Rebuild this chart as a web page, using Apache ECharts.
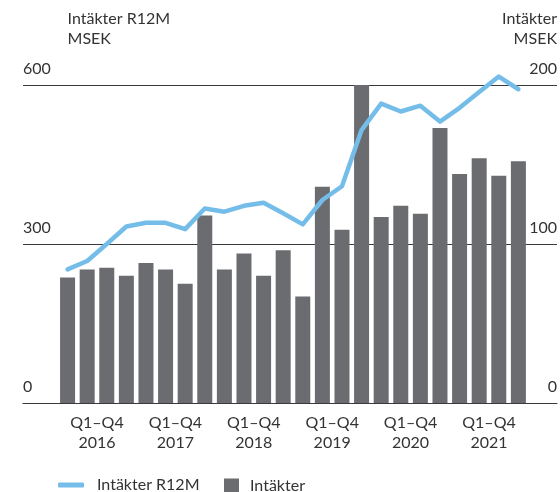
<!DOCTYPE html>
<html>
<head>
<meta charset="utf-8">
<script src="https://cdn.jsdelivr.net/npm/echarts@6/dist/echarts.min.js"></script>
<style>
  html, body { margin: 0; padding: 0; background: #fff; }
  #chart { width: 560px; height: 492px; }
</style>
</head>
<body>
<div id="chart"></div>
<script>
  // quarterly revenue, MSEK (right axis)
  const years = ['2016', '2017', '2018', '2019', '2020', '2021']
  const revenue = [79, 84, 85, 80, 88, 84, 75, 118, 84, 94, 80, 96,
    67, 136, 109, 201, 117, 124, 119, 173, 144, 154, 143, 152]
  // rolling 12 months, MSEK (left axis)
  const revenueR12 = [252, 268, 300, 333, 340, 340, 328, 367, 361, 372, 378, 358,
    337, 383, 409, 515, 565, 550, 561, 531, 557, 587, 616, 592]
  const leftTicks = [0, 300, 600]
  const rightTicks = [0, 100, 200]

  const font = 'Lato'
  const textColor = '#333333'
  const gridColor = '#3a3a3a'

  const chart = echarts.init(document.getElementById('chart'))

  const option = {
    animation: false,
    textStyle: { fontFamily: font },
    grid: { left: 23, right: 3, top: 85, bottom: 89 },
    legend: [
      {
        left: 58,
        top: 477,
        padding: 0,
        itemWidth: 26,
        itemHeight: 5,
        icon: 'roundRect',
        data: ['Intäkter R12M'],
        textStyle: { fontFamily: font, fontSize: 16, color: textColor, padding: [0, 0, 0, 8] },
      },
      {
        left: 224,
        top: 478,
        padding: 0,
        itemWidth: 15,
        itemHeight: 15,
        icon: 'rect',
        data: ['Intäkter'],
        textStyle: { fontFamily: font, fontSize: 16, color: textColor, padding: [0, 0, 0, 6] },
      },
    ],
    xAxis: {
      type: 'value',
      min: -2.274,
      max: 24.97,
      splitLine: { show: false },
      axisTick: { show: false },
      axisLine: { show: true, onZero: false, lineStyle: { color: gridColor, width: 1 } },
      axisLabel: {
        customValues: years.map((_, i) => i * 4 + 1.5),
        formatter: (v) => 'Q1–Q4\n' + years[Math.round((v - 1.5) / 4)],
        fontSize: 16,
        lineHeight: 20,
        margin: 10,
        color: textColor,
        fontFamily: font,
      },
    },
    yAxis: [
      {
        type: 'value',
        min: 0,
        max: 600,
        interval: 300,
        position: 'left',
        name: 'Intäkter R12M\nMSEK',
        nameLocation: 'end',
        nameGap: 36,
        nameTextStyle: { align: 'left', verticalAlign: 'bottom', fontSize: 16, lineHeight: 20, color: textColor, fontFamily: font },
        axisLine: { show: false },
        axisTick: { show: false },
        splitLine: { show: true, lineStyle: { color: gridColor, width: 1 } },
        axisLabel: {
          inside: true,
          margin: 0,
          verticalAlign: 'bottom',
          padding: [0, 0, 8, 0],
          fontSize: 16,
          color: textColor,
          fontFamily: font,
          customValues: leftTicks,
        },
      },
      {
        type: 'value',
        min: 0,
        max: 200,
        interval: 100,
        position: 'right',
        name: 'Intäkter\nMSEK',
        nameLocation: 'end',
        nameGap: 36,
        nameTextStyle: { align: 'right', verticalAlign: 'bottom', fontSize: 16, lineHeight: 20, color: textColor, fontFamily: font },
        axisLine: { show: false },
        axisTick: { show: false },
        splitLine: { show: false },
        axisLabel: {
          inside: true,
          margin: 0,
          verticalAlign: 'bottom',
          padding: [0, 0, 8, 0],
          fontSize: 16,
          color: textColor,
          fontFamily: font,
          customValues: rightTicks,
        },
      },
    ],
    series: [
      {
        name: 'Intäkter',
        type: 'bar',
        yAxisIndex: 1,
        barWidth: 15,
        itemStyle: { color: '#6b6c70' },
        data: revenue.map((v, i) => [i, v]),
        z: 2,
      },
      {
        name: 'Intäkter R12M',
        type: 'line',
        yAxisIndex: 0,
        symbol: 'none',
        clip: false,
        lineStyle: { color: '#75bde9', width: 4.5, cap: 'round', join: 'round' },
        itemStyle: { color: '#75bde9' },
        data: revenueR12.map((v, i) => [i, v]),
        z: 3,
      },
    ],
  }

  chart.setOption(option)
</script>
</body>
</html>
